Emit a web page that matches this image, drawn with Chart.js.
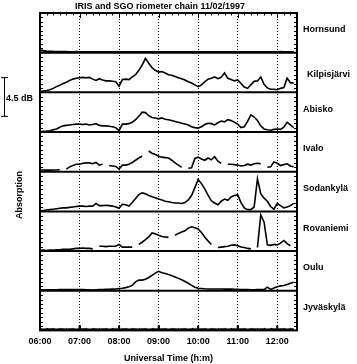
<!DOCTYPE html>
<html>
<head>
<meta charset="utf-8">
<script src="https://cdn.jsdelivr.net/npm/chart.js@4.4.1/dist/chart.umd.min.js"></script>
<style>
  html, body { margin: 0; padding: 0; background: #fff; }
  #wrap { width: 357px; height: 364px; }
</style>
</head>
<body>
<div id="wrap"><canvas id="chart"></canvas></div>
<script>
// time of day in minutes (06:00 = 360), 5 minute steps
const times = [
  360,365,370,375,380,385,390,395, 400,405,410,415,420,425,430,435,
  440,445,450,455,460,465,470,475, 480,485,490,495,500,505,510,515,
  520,525,530,535,540,545,550,555, 560,565,570,575,580,585,590,595,
  600,605,610,615,620,625,630,635, 640,645,650,655,660,665,670,675,
  680,685,690,695,700,705,710,715, 720,725,730,735,740,745
];

const stations = ['Hornsund', 'Kilpisjärvi', 'Abisko', 'Ivalo', 'Sodankylä', 'Rovaniemi', 'Oulu', 'Jyväskylä'];

// absorption in dB, null = data gap
const hornsund = [
  0.3,0.22,0.17,0.14,0.12,0.11,0.1,0.1, 0.1,0.09,0.09,0.1,0.08,0.09,0.08,0.08,
  0.08,0.07,0.08,0.07,0.08,0.07,0.07,0.08, 0.07,0.08,0.07,0.07,0.08,0.07,0.07,0.08,
  0.07,0.08,0.07,0.07,0.07,0.08,0.07,0.07, 0.08,0.07,0.07,0.08,0.07,0.07,0.08,0.07,
  0.07,0.08,0.07,0.07,0.08,0.07,0.07,0.08, 0.07,0.07,0.08,0.07,0.08,0.07,0.07,0.08,
  0.07,0.08,0.07,0.07,0.08,0.07,0.08,0.07, 0.08,0.1,0.08,0.07,0.08,0.07
];
const kilpisjarvi = [
  0.1,0.15,0.2,0.3,0.45,0.65,0.8,1.0, 1.15,1.35,1.5,1.6,1.65,1.7,1.65,1.7,
  1.5,1.35,1.55,1.4,1.3,1.3,1.25,1.2, 0.7,1.45,1.5,1.45,1.75,2.0,2.5,3.1,
  3.85,3.3,2.8,2.5,2.3,2.35,2.2,2.0, 1.95,1.8,1.65,1.55,1.4,1.2,1.05,0.85,
  0.65,0.85,1.2,1.5,1.6,1.75,1.55,1.7, 2.2,1.6,1.45,1.3,1.4,1.0,0.6,0.45,
  0.85,1.25,1.3,1.75,0.9,0.5,0.35,0.35, 0.3,0.45,0.55,1.6,1.1,1.05
];
const abisko = [
  0.05,0.08,0.1,0.15,0.25,0.35,0.55,0.7, 0.75,0.8,0.85,0.9,0.9,0.85,0.9,0.8,
  0.85,0.95,0.75,0.7,0.7,0.65,0.6,0.5, 0.15,0.9,0.9,0.95,1.1,1.4,1.8,2.25,
  2.2,1.85,1.65,1.6,1.5,1.6,1.45,1.4, 1.3,1.2,1.1,1.0,0.9,0.8,0.6,0.5,
  0.45,0.6,0.85,1.0,0.95,0.8,1.05,1.25, 1.15,1.4,1.3,1.1,0.9,0.5,0.6,1.2,
  1.95,1.7,1.3,0.7,0.35,0.25,0.2,0.3, 0.35,0.3,0.55,1.1,0.8,0.5
];
const ivalo = [
  0.2,0.2,0.18,0.18,0.2,0.2,0.22,null, 0.3,0.55,0.7,0.85,0.85,0.95,1.0,1.0,
  0.9,1.05,0.75,0.85,null,0.7,0.65,0.6, 0.3,0.75,0.75,0.85,1.05,1.3,1.55,1.75,
  null,2.35,2.1,1.95,1.75,1.65,1.6,1.55, 1.3,1.0,0.75,0.5,null,0.4,0.45,1.5,
  1.65,1.45,1.3,1.55,1.35,1.7,1.2,0.95, null,0.85,0.85,0.8,0.75,0.65,0.7,0.85,
  0.75,0.9,0.95,0.9,null,0.5,0.55,1.1, 0.95,0.7,0.8,0.9,0.65,0.55
];
const sodankyla = [
  0.05,0.1,0.15,0.2,0.25,0.3,0.35,0.4, 0.4,0.45,0.5,0.55,0.6,0.6,0.55,0.6,
  0.6,0.9,0.65,0.65,0.7,0.65,0.6,0.5, 0.35,0.8,0.75,0.6,1.0,1.45,1.9,2.1,
  2.0,1.8,1.65,1.55,1.4,1.3,1.15,1.1, 1.0,0.95,0.95,0.9,1.0,1.3,1.8,2.7,
  3.6,3.15,2.55,1.85,1.2,0.95,0.75,1.15, 1.4,1.25,1.65,1.8,1.9,1.0,0.4,0.2,
  0.2,0.5,3.7,2.0,1.5,1.15,0.55,0.25, 0.9,0.65,0.4,0.5,0.65,0.9
];
const rovaniemi = [
  0.1,0.1,0.05,0.1,0.1,0.15,0.15,0.2, 0.2,0.2,0.25,0.3,0.3,0.35,0.3,0.3,
  0.25,null,0.55,0.55,0.5,0.55,0.55,0.55, 0.75,0.45,0.45,0.45,0.45,null,0.75,1.0,
  1.3,1.6,2.05,1.95,1.8,1.65,1.6,1.55, null,1.8,2.0,2.15,2.3,2.6,2.75,2.65,
  2.5,2.1,1.6,1.15,0.75,null,0.4,0.45, 0.5,0.55,0.65,0.7,0.6,0.45,0.4,0.3,
  0.25,null,0.4,4.1,3.3,0.7,0.65,0.75, 0.7,0.9,1.2,0.85,0.6,null
];
const oulu = [
  0.1,0.1,0.1,0.1,0.1,0.1,0.12,0.12, 0.12,0.12,0.12,0.12,0.12,0.12,0.1,0.1,
  0.08,0.1,0.12,0.12,0.15,0.15,0.18,0.2, 0.25,0.28,0.35,0.45,0.6,1.0,1.2,1.2,
  1.3,1.5,1.75,2.0,2.2,2.05,1.95,1.85, 1.7,1.55,1.4,1.25,1.05,0.85,0.6,0.4,
  0.28,0.25,0.22,0.2,0.2,0.2,0.2,0.2, 0.18,0.18,0.18,0.15,0.15,0.12,0.12,0.12,
  0.1,0.1,0.12,0.12,0.12,0.4,0.15,0.3, 0.45,0.55,0.6,0.7,0.85,0.95
];
const jyvaskyla = [
  0.12,0.1,0.12,0.14,0.12,0.1,0.12,0.12, 0.1,0.12,0.12,0.1,0.12,0.14,0.12,0.1,
  0.12,0.12,0.1,0.12,0.12,0.1,0.12,0.12, 0.1,0.12,0.12,0.1,0.12,0.12,0.1,0.12,
  0.12,0.1,0.12,0.12,0.1,0.12,0.12,0.1, 0.12,0.12,0.1,0.12,0.12,0.1,0.12,0.12,
  0.1,0.12,0.12,0.1,0.12,0.12,0.1,0.12, 0.12,0.1,0.12,0.12,0.1,0.12,0.12,0.1,
  0.12,0.12,0.1,0.12,0.12,0.1,0.12,0.12, 0.1,0.12,0.12,0.1,0.12,0.12
];

const series = [hornsund, kilpisjarvi, abisko, ivalo, sodankyla, rovaniemi, oulu, jyvaskyla];
const hourTicks = [360, 420, 480, 540, 600, 660, 720];
const panelRange = 4.5; // dB per panel, also the scale bar

const FONT = "'Liberation Sans', Arial, sans-serif";

function hhmm(v) {
  const h = Math.floor(v / 60), m = v % 60;
  return String(h).padStart(2, '0') + ':' + String(m).padStart(2, '0');
}

// one stacked y axis per station
const scales = {
  x: {
    type: 'linear',
    min: 360,
    max: 750,
    afterBuildTicks: (axis) => { axis.ticks = hourTicks.map(v => ({ value: v })); },
    ticks: {
      callback: (v) => hhmm(v),
      color: '#000',
      font: { family: FONT, size: 9, weight: 'bold' },
      padding: 6,
      maxRotation: 0
    },
    grid: { color: '#000', lineWidth: 1, drawTicks: false },
    border: { display: false, dash: [1, 2] },
    title: {
      display: true,
      text: 'Universal Time (h:m)',
      color: '#000',
      font: { family: FONT, size: 9, weight: 'bold' },
      padding: { top: 0, bottom: 0 }
    }
  }
};
// left stacks are placed last-defined-first, so add bottom panel first
for (let i = stations.length - 1; i >= 0; i--) {
  scales['y' + i] = {
    type: 'linear',
    position: 'left',
    stack: 'panels',
    stackWeight: 1,
    min: 0,
    max: panelRange,
    ticks: { display: false },
    grid: { display: false, drawTicks: false },
    border: { display: false }
  };
}

const datasets = series.map((vals, i) => ({
  label: stations[i],
  yAxisID: 'y' + i,
  data: times.map((t, j) => ({ x: t, y: vals[j] })),
  borderColor: '#000',
  borderWidth: (i === 0 || i === 7) ? 2 : 1.6,
  pointRadius: 0,
  tension: 0,
  spanGaps: false
}));

const framePlugin = {
  id: 'frame',
  afterDraw(chart) {
    const ctx = chart.ctx;
    const a = chart.chartArea;
    const xs = chart.scales.x;
    ctx.save();
    ctx.strokeStyle = '#000';
    ctx.fillStyle = '#000';

    // panel separators and small y ticks
    stations.forEach((name, i) => {
      const s = chart.scales['y' + i];
      ctx.lineWidth = 1;
      ctx.beginPath();
      for (let v = 0.5; v < panelRange; v += 0.5) {
        const y = Math.round(s.getPixelForValue(v)) + 0.5;
        ctx.moveTo(a.left, y); ctx.lineTo(a.left + 3, y);
        ctx.moveTo(a.right, y); ctx.lineTo(a.right - 3, y);
      }
      ctx.stroke();
      if (i < stations.length - 1) {
        ctx.lineWidth = 2;
        ctx.beginPath();
        ctx.moveTo(a.left, s.bottom); ctx.lineTo(a.right, s.bottom);
        ctx.stroke();
      }
      // station name
      const dy = name === 'Kilpisjärvi' ? 2 : -3;
      ctx.font = 'bold 9px ' + FONT;
      ctx.textAlign = 'left';
      ctx.textBaseline = 'middle';
      ctx.fillText(name, name === 'Kilpisjärvi' ? a.right + 10 : a.right + 6, (s.top + s.bottom) / 2 + dy);
    });

    // x ticks along bottom and top
    ctx.lineWidth = 1;
    ctx.beginPath();
    for (let m = 360; m <= 750; m += 10) {
      const x = Math.round(xs.getPixelForValue(m)) + 0.5;
      const len = m % 60 === 0 ? 5 : 2.5;
      ctx.moveTo(x, a.bottom); ctx.lineTo(x, a.bottom - len);
      ctx.moveTo(x, a.top); ctx.lineTo(x, a.top + len);
    }
    ctx.stroke();
    ctx.lineWidth = 2;
    hourTicks.forEach(m => {
      const x = xs.getPixelForValue(m);
      ctx.beginPath();
      ctx.moveTo(x, a.bottom); ctx.lineTo(x, a.bottom - 5);
      ctx.stroke();
    });

    // outer frame
    ctx.lineWidth = 2;
    ctx.strokeRect(a.left, a.top, a.right - a.left, a.bottom - a.top);

    // title
    ctx.font = 'bold 9px ' + FONT;
    ctx.textAlign = 'center';
    ctx.textBaseline = 'middle';
    ctx.fillText('IRIS and SGO riometer chain 11/02/1997', 160, 7);

    // scale bar for 4.5 dB
    const ref = chart.scales.y1;
    const barLen = ref.getPixelForValue(0) - ref.getPixelForValue(panelRange);
    const mid = 97;
    ctx.lineWidth = 1;
    ctx.beginPath();
    ctx.moveTo(4.5, mid - barLen / 2); ctx.lineTo(4.5, mid + barLen / 2);
    ctx.moveTo(1, mid - barLen / 2 + 0.5); ctx.lineTo(8, mid - barLen / 2 + 0.5);
    ctx.moveTo(1, mid + barLen / 2 - 0.5); ctx.lineTo(8, mid + barLen / 2 - 0.5);
    ctx.stroke();
    ctx.textAlign = 'left';
    ctx.fillText('4.5 dB', 6, 99);

    // y title
    ctx.translate(20, 195);
    ctx.rotate(-Math.PI / 2);
    ctx.textAlign = 'center';
    ctx.fillText('Absorption', 0, 0);
    ctx.restore();
  }
};

new Chart(document.getElementById('chart'), {
  type: 'line',
  data: { datasets },
  options: {
    responsive: true,
    maintainAspectRatio: false,
    animation: false,
    layout: { padding: { left: 40, right: 60, top: 13, bottom: 0 } },
    plugins: {
      legend: { display: false },
      tooltip: { enabled: false },
      title: { display: false }
    },
    scales
  },
  plugins: [framePlugin]
});
</script>
</body>
</html>
